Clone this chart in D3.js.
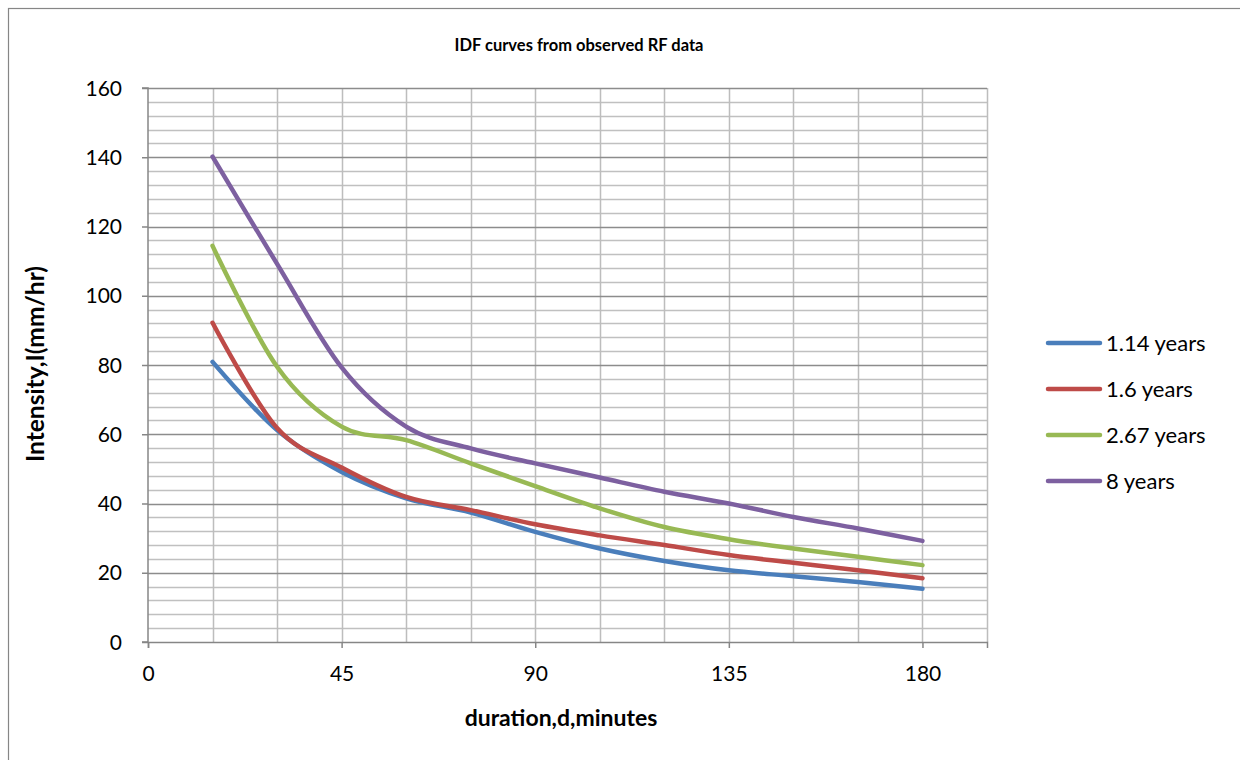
<!DOCTYPE html>
<html>
<head>
<meta charset="utf-8">
<script src="https://cdn.jsdelivr.net/npm/d3@7"></script>
<style>
  body { margin: 0; background: #fff; }
  svg { display: block; }
  text { font-family: Lato, "Noto Sans", sans-serif; fill: #000; }
</style>
</head>
<body>
<svg id="chart" width="1240" height="760"></svg>
<script>
// ---- data ----
const durations = [15, 30, 45, 60, 75, 90, 105, 120, 135, 150, 165, 180];
const seriesNames = ["1.14 years", "1.6 years", "2.67 years", "8 years"];
const s114 = [80.9, 61.2, 49.1, 41.5, 37.4, 31.8, 27.0, 23.4, 20.7, 19.0, 17.3, 15.4];
const s16  = [92.2, 61.8, 50.4, 41.9, 38.1, 34.0, 30.8, 28.0, 25.1, 22.9, 20.7, 18.4];
const s267 = [114.4, 79.5, 62.2, 58.3, 51.6, 45.0, 38.6, 33.2, 29.7, 27.0, 24.6, 22.2];
const s8   = [140.2, 109.2, 79.3, 62.2, 55.9, 51.6, 47.5, 43.4, 40.0, 36.1, 32.8, 29.2];
const xTicks = [0, 45, 90, 135, 180];
const yTicks = [0, 20, 40, 60, 80, 100, 120, 140, 160];
const colors = ["#4A7EBB", "#BE4B48", "#98B954", "#7D60A0"];

const allSeries = [s114, s16, s267, s8];

const svg = d3.select("#chart");

// outer frame
svg.append("rect").attr("x", 8.5).attr("y", 8.5).attr("width", 1260).attr("height", 800)
  .attr("fill", "none").attr("stroke", "#868686").attr("stroke-width", 1.2);

const L = 148, R = 987, T = 88, B = 642;
const x = d3.scaleLinear().domain([0, 195]).range([L, R]);
const y = d3.scaleLinear().domain([0, 160]).range([B, T]);

const g = svg.append("g");

// minor horizontal gridlines (every 4)
const minorY = d3.range(0, 161, 4).filter(v => v % 20 !== 0);
g.selectAll(".hmin").data(minorY).join("line")
  .attr("x1", L).attr("x2", R)
  .attr("y1", d => Math.round(y(d)) + 0.5).attr("y2", d => Math.round(y(d)) + 0.5)
  .attr("stroke", "#c0c0c0").attr("stroke-width", 1.3);

// vertical gridlines (every 15)
const vLines = d3.range(15, 196, 15);
g.selectAll(".vg").data(vLines).join("line")
  .attr("x1", d => Math.round(x(d)) + 0.5).attr("x2", d => Math.round(x(d)) + 0.5)
  .attr("y1", T).attr("y2", B)
  .attr("stroke", "#bdbdbd").attr("stroke-width", 1.5);

// major horizontal gridlines
g.selectAll(".hmaj").data(yTicks.filter(v => v > 0)).join("line")
  .attr("x1", L).attr("x2", R)
  .attr("y1", d => Math.round(y(d)) + 0.5).attr("y2", d => Math.round(y(d)) + 0.5)
  .attr("stroke", "#8c8c8c").attr("stroke-width", 1.3);

// axes
const yAxis = d3.axisLeft(y).tickValues(yTicks).tickSize(6).tickPadding(20).tickFormat(d3.format("d"));
const gy = svg.append("g").attr("transform", `translate(${L},0)`).call(yAxis);
const xAxis = d3.axisBottom(x).tickValues(xTicks).tickSize(6).tickPadding(20).tickFormat(d3.format("d"));
const gx = svg.append("g").attr("transform", `translate(0,${B})`).call(xAxis);
[gx, gy].forEach(a => {
  a.select(".domain").attr("stroke", "#868686").attr("stroke-width", 1.5);
  a.selectAll(".tick line").attr("stroke", "#868686").attr("stroke-width", 1.5);
  a.selectAll(".tick text").style("font-size", "21px").style("font-family", "Lato, 'Noto Sans', sans-serif").attr("fill", "#000");
});
gy.select(".domain").attr("d", `M-6,${B}H0V${T}H-6`);
gy.selectAll(".tick text").attr("dy", "0.34em");
gx.selectAll(".tick text").attr("dy", "0.6em");

// lines
const line = d3.line()
  .x((d, i) => x(durations[i]))
  .y(d => y(d))
  .curve(d3.curveCatmullRom.alpha(0));

svg.append("g").selectAll("path").data(allSeries).join("path")
  .attr("d", d => line(d))
  .attr("fill", "none")
  .attr("stroke", (d, i) => colors[i])
  .attr("stroke-width", 4.5)
  .attr("stroke-linecap", "round")
  .attr("stroke-linejoin", "round");

// title
svg.append("text").attr("x", 579).attr("y", 51).attr("text-anchor", "middle")
  .style("font-size", "16.5px").style("font-weight", "bold").text("IDF curves from observed RF data");

// axis titles
svg.append("text").attr("x", 561).attr("y", 726).attr("text-anchor", "middle")
  .style("font-size", "23px").style("font-weight", "bold").text("duration,d,minutes");
svg.append("text").attr("transform", "translate(44,364) rotate(-90)").attr("text-anchor", "middle")
  .style("font-size", "24.5px").style("font-weight", "bold").text("Intensity,I(mm/hr)");

// legend
const lg = svg.append("g");
const legY = [343, 389, 435, 481];
seriesNames.forEach((name, i) => {
  lg.append("line").attr("x1", 1048).attr("x2", 1100).attr("y1", legY[i]).attr("y2", legY[i])
    .attr("stroke", colors[i]).attr("stroke-width", 4.5).attr("stroke-linecap", "round");
  lg.append("text").attr("x", 1106).attr("y", legY[i]).attr("dy", "0.36em")
    .style("font-size", "22px").text(name);
});
</script>
</body>
</html>
